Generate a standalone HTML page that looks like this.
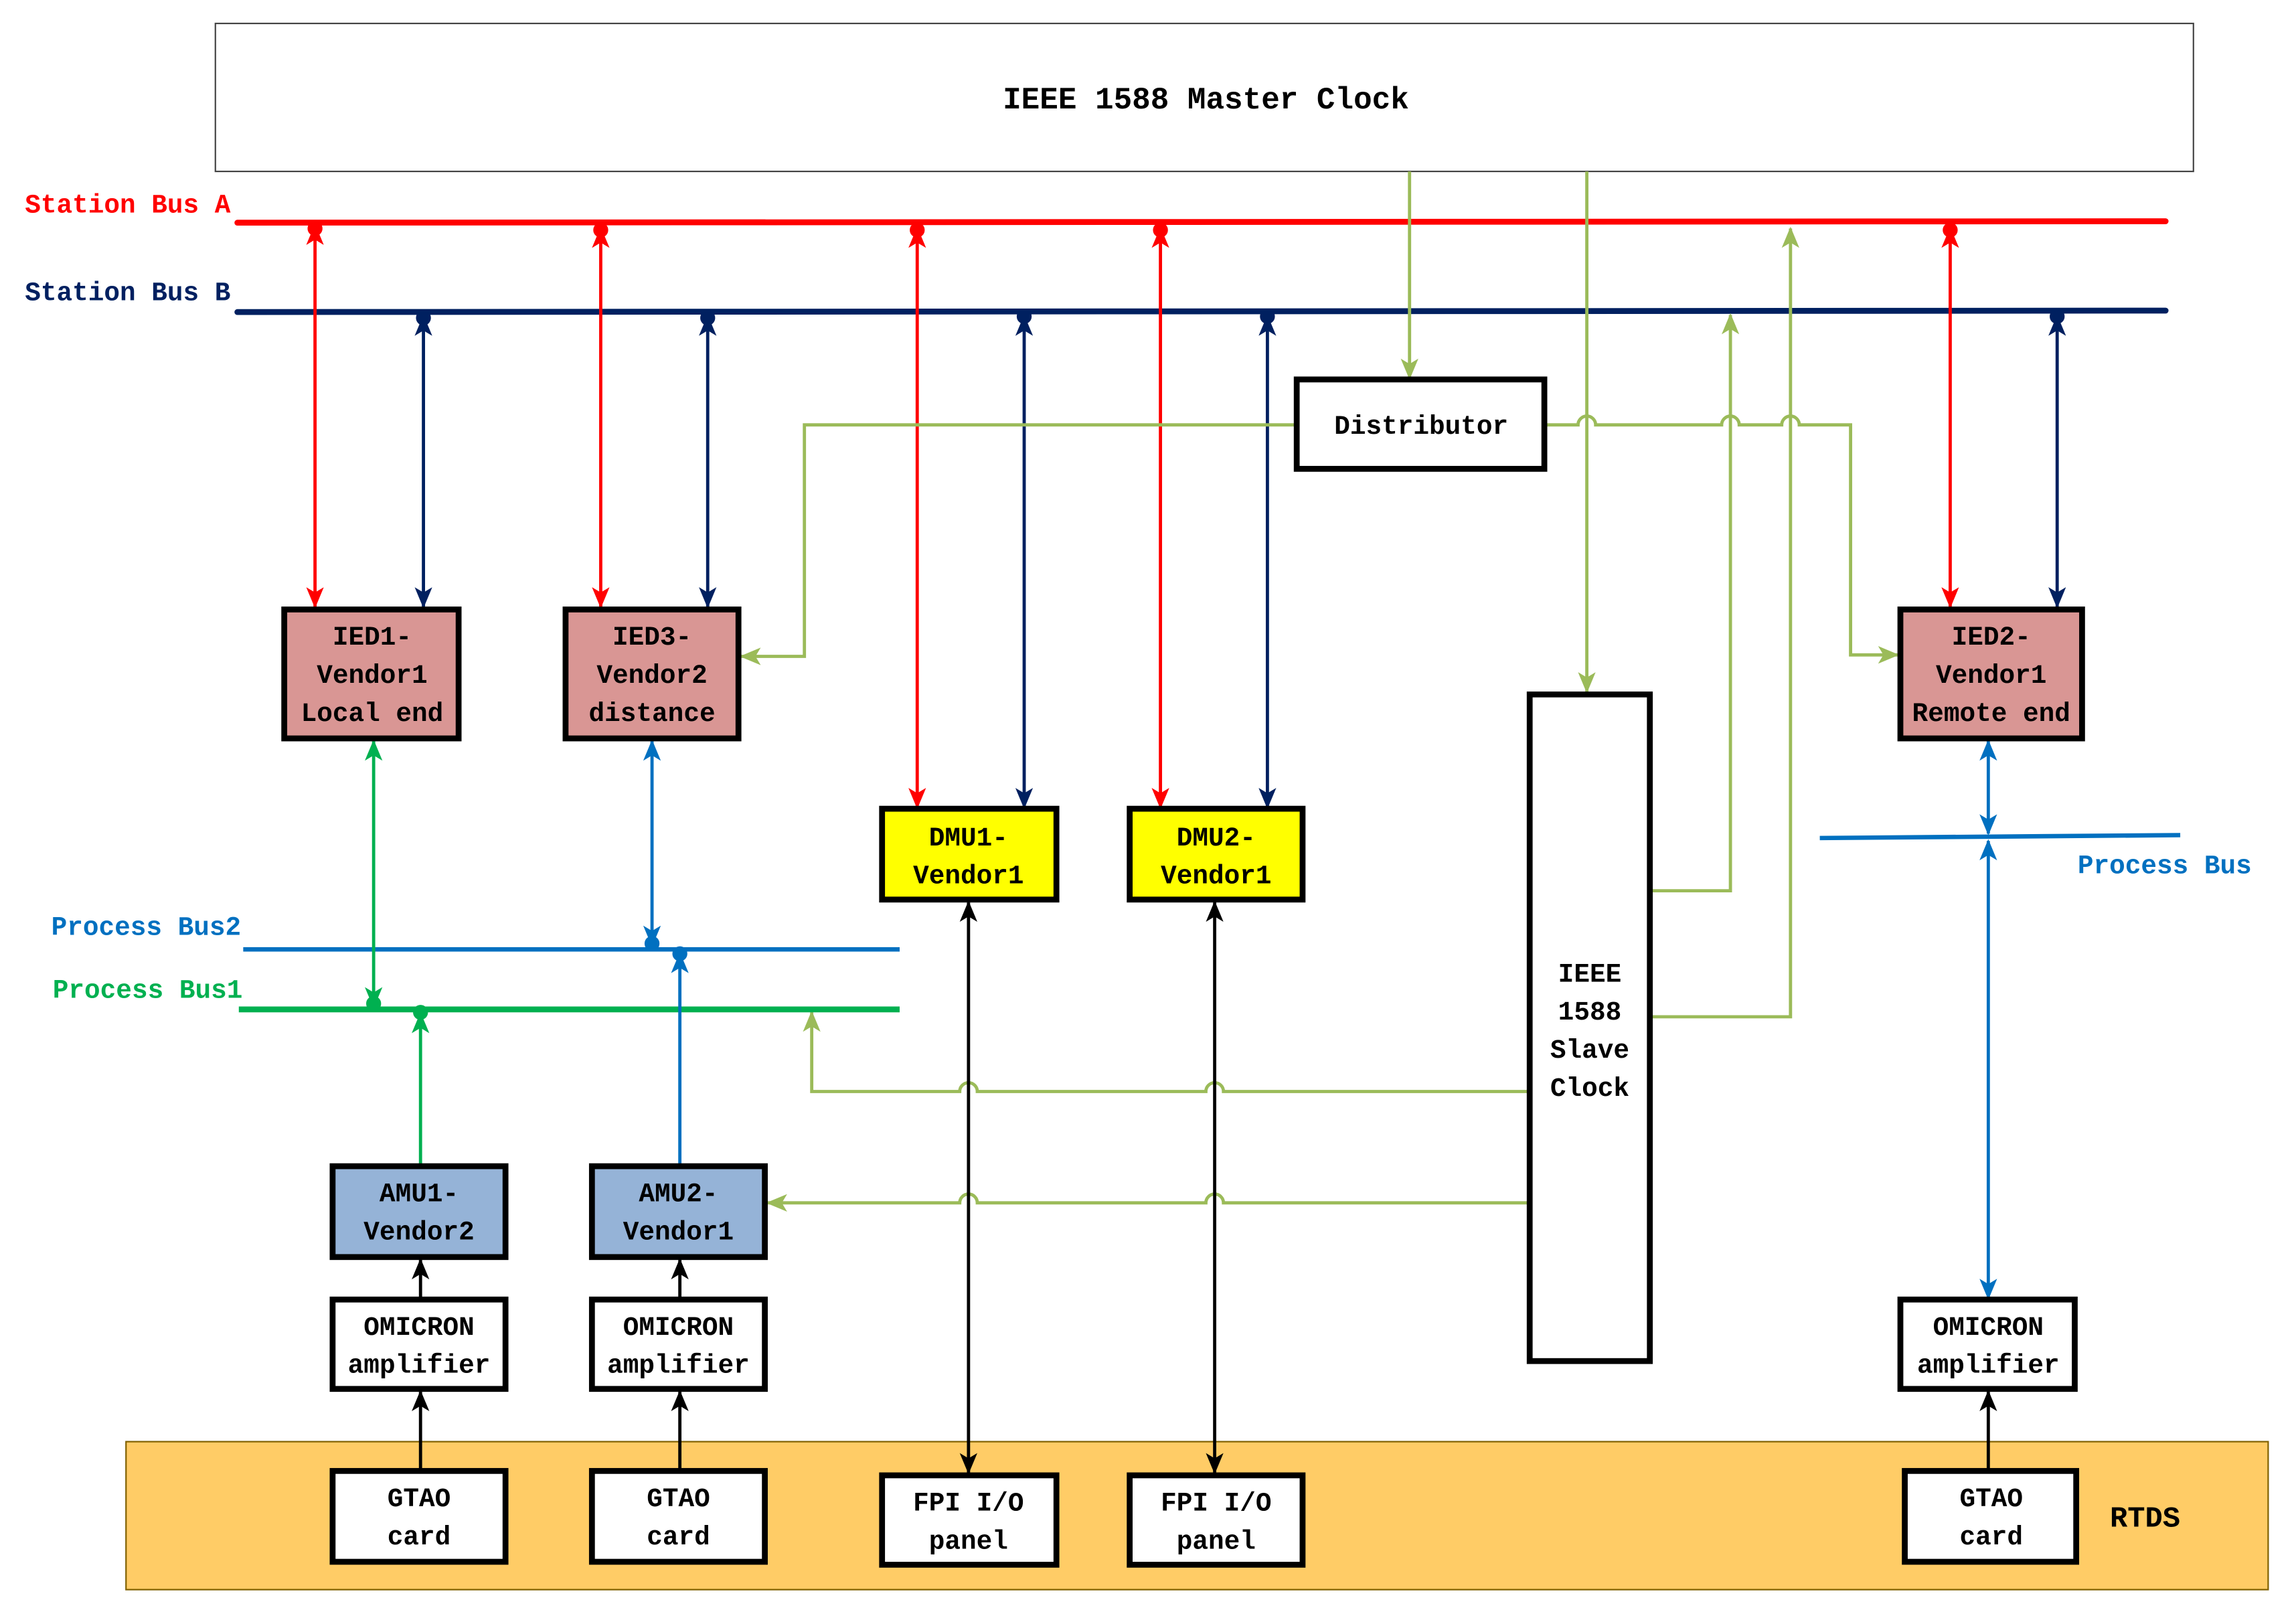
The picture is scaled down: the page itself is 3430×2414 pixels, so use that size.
<!DOCTYPE html>
<html><head><meta charset="utf-8"><style>html,body{margin:0;padding:0;background:#fff}svg{display:block}</style></head><body>
<svg xmlns="http://www.w3.org/2000/svg" width="3430" height="2414" viewBox="0 0 1567 1103" preserveAspectRatio="none">
<defs>
<marker id="ar" viewBox="0 0 12 10" refX="11" refY="5" markerWidth="15" markerHeight="12" markerUnits="userSpaceOnUse" orient="auto-start-reverse"><path d="M0,0 L12,5 L0,10 L3,5 z" fill="#ff0000"/></marker>
<marker id="an" viewBox="0 0 12 10" refX="11" refY="5" markerWidth="15" markerHeight="12" markerUnits="userSpaceOnUse" orient="auto-start-reverse"><path d="M0,0 L12,5 L0,10 L3,5 z" fill="#002060"/></marker>
<marker id="ag" viewBox="0 0 12 10" refX="11" refY="5" markerWidth="15" markerHeight="12" markerUnits="userSpaceOnUse" orient="auto-start-reverse"><path d="M0,0 L12,5 L0,10 L3,5 z" fill="#9bbb59"/></marker>
<marker id="aG" viewBox="0 0 12 10" refX="11" refY="5" markerWidth="15" markerHeight="12" markerUnits="userSpaceOnUse" orient="auto-start-reverse"><path d="M0,0 L12,5 L0,10 L3,5 z" fill="#00b050"/></marker>
<marker id="ab" viewBox="0 0 12 10" refX="11" refY="5" markerWidth="15" markerHeight="12" markerUnits="userSpaceOnUse" orient="auto-start-reverse"><path d="M0,0 L12,5 L0,10 L3,5 z" fill="#0070c0"/></marker>
<marker id="ak" viewBox="0 0 12 10" refX="11" refY="5" markerWidth="15" markerHeight="12" markerUnits="userSpaceOnUse" orient="auto-start-reverse"><path d="M0,0 L12,5 L0,10 L3,5 z" fill="#000"/></marker>
</defs>
<g font-family="Liberation Mono, monospace" font-size="18" font-weight="bold" text-anchor="middle">
<rect x="86" y="984" width="1462" height="101" fill="#ffcc66" stroke="#7f6000" stroke-width="1"/>
<text x="1464" y="1042" font-size="20">RTDS</text>
<rect x="147" y="16" width="1350" height="101" fill="#fff" stroke="#444" stroke-width="1"/>
<text x="823" y="74" font-size="21">IEEE 1588 Master Clock</text>
<line x1="162" y1="152" x2="1478" y2="151" stroke="#ff0000" stroke-width="4" stroke-linecap="round"/>
<line x1="162" y1="213" x2="1478" y2="212" stroke="#002060" stroke-width="4" stroke-linecap="round"/>
<text x="17" y="145" text-anchor="start" fill="#ff0000">Station Bus A</text>
<text x="17" y="205" text-anchor="start" fill="#002060">Station Bus B</text>
<g stroke="#ff0000" stroke-width="2.2" fill="#ff0000">
<line x1="215" y1="154" x2="215" y2="414" marker-start="url(#ar)" marker-end="url(#ar)"/>
<line x1="410" y1="156" x2="410" y2="414" marker-start="url(#ar)" marker-end="url(#ar)"/>
<line x1="626" y1="156" x2="626" y2="551" marker-start="url(#ar)" marker-end="url(#ar)"/>
<line x1="792" y1="156" x2="792" y2="551" marker-start="url(#ar)" marker-end="url(#ar)"/>
<line x1="1331" y1="156" x2="1331" y2="414" marker-start="url(#ar)" marker-end="url(#ar)"/>
<circle cx="215" cy="156" r="4"/><circle cx="410" cy="157" r="4"/><circle cx="626" cy="157" r="4"/><circle cx="792" cy="157" r="4"/><circle cx="1331" cy="157" r="4"/>
</g>
<g stroke="#002060" stroke-width="2.2" fill="#002060">
<line x1="289" y1="216" x2="289" y2="414" marker-start="url(#an)" marker-end="url(#an)"/>
<line x1="483" y1="216" x2="483" y2="414" marker-start="url(#an)" marker-end="url(#an)"/>
<line x1="699" y1="216" x2="699" y2="551" marker-start="url(#an)" marker-end="url(#an)"/>
<line x1="865" y1="216" x2="865" y2="551" marker-start="url(#an)" marker-end="url(#an)"/>
<line x1="1404" y1="216" x2="1404" y2="414" marker-start="url(#an)" marker-end="url(#an)"/>
<circle cx="289" cy="217" r="4"/><circle cx="483" cy="217" r="4"/><circle cx="699" cy="216" r="4"/><circle cx="865" cy="216" r="4"/><circle cx="1404" cy="216" r="4"/>
</g>
<g stroke="#9bbb59" stroke-width="2.2" fill="none">
<line x1="962" y1="117" x2="962" y2="258" marker-end="url(#ag)"/>
<line x1="1083" y1="117" x2="1083" y2="472" marker-end="url(#ag)"/>
<polyline points="885,290 549,290 549,448 506,448" marker-end="url(#ag)"/>
<path d="M1054,290 H1077 a6,6 0 0 1 12,0 H1175 a6,6 0 0 1 12,0 H1216 a6,6 0 0 1 12,0 H1263 V447 H1295" marker-end="url(#ag)"/>
<polyline points="1126,608 1181,608 1181,215" marker-end="url(#ag)"/>
<polyline points="1126,694 1222,694 1222,156" marker-end="url(#ag)"/>
<path d="M1044,745 H835 a6,6 0 0 0 -12,0 H667 a6,6 0 0 0 -12,0 H554 V691" marker-end="url(#ag)"/>
<path d="M1044,821 H835 a6,6 0 0 0 -12,0 H667 a6,6 0 0 0 -12,0 H524" marker-end="url(#ag)"/>
</g>
<line x1="166" y1="648" x2="614" y2="648" stroke="#0070c0" stroke-width="3"/>
<line x1="163" y1="689" x2="614" y2="689" stroke="#00b050" stroke-width="4"/>
<text x="35" y="638" text-anchor="start" fill="#0070c0">Process Bus2</text>
<text x="36" y="681" text-anchor="start" fill="#00b050">Process Bus1</text>
<line x1="1242" y1="572" x2="1488" y2="570" stroke="#0070c0" stroke-width="3"/>
<text x="1418" y="596" text-anchor="start" fill="#0070c0">Process Bus</text>
<g stroke="#00b050" stroke-width="2.2" fill="#00b050">
<line x1="255" y1="506" x2="255" y2="687" marker-start="url(#aG)" marker-end="url(#aG)"/>
<line x1="287" y1="796" x2="287" y2="692" marker-end="url(#aG)"/>
<circle cx="255" cy="685" r="4"/><circle cx="287" cy="691" r="4"/>
</g>
<g stroke="#0070c0" stroke-width="2.2" fill="#0070c0">
<line x1="445" y1="506" x2="445" y2="645" marker-start="url(#ab)" marker-end="url(#ab)"/>
<line x1="464" y1="796" x2="464" y2="651" marker-end="url(#ab)"/>
<line x1="1357" y1="506" x2="1357" y2="569" marker-start="url(#ab)" marker-end="url(#ab)"/>
<line x1="1357" y1="574" x2="1357" y2="886" marker-start="url(#ab)" marker-end="url(#ab)"/>
<circle cx="445" cy="644" r="4"/><circle cx="464" cy="651" r="4"/>
</g>
<g stroke="#000" stroke-width="2.2">
<line x1="287" y1="1004" x2="287" y2="950" marker-end="url(#ak)"/>
<line x1="287" y1="887" x2="287" y2="860" marker-end="url(#ak)"/>
<line x1="464" y1="1004" x2="464" y2="950" marker-end="url(#ak)"/>
<line x1="464" y1="887" x2="464" y2="860" marker-end="url(#ak)"/>
<line x1="1357" y1="1004" x2="1357" y2="950" marker-end="url(#ak)"/>
<line x1="661" y1="616" x2="661" y2="1005" marker-start="url(#ak)" marker-end="url(#ak)"/>
<line x1="829" y1="616" x2="829" y2="1005" marker-start="url(#ak)" marker-end="url(#ak)"/>
</g>
<g stroke="#000" stroke-width="4">
<rect x="194" y="416" width="119" height="88" fill="#d99694"/>
<rect x="386" y="416" width="118" height="88" fill="#d99694"/>
<rect x="1297" y="416" width="124" height="88" fill="#d99694"/>
<rect x="602" y="552" width="119" height="62" fill="#ffff00"/>
<rect x="771" y="552" width="118" height="62" fill="#ffff00"/>
<rect x="885" y="259" width="169" height="61" fill="#fff"/>
<rect x="1044" y="474" width="82" height="455" fill="#fff"/>
<rect x="227" y="796" width="118" height="62" fill="#95b3d7"/>
<rect x="404" y="796" width="118" height="62" fill="#95b3d7"/>
<rect x="227" y="887" width="118" height="61" fill="#fff"/>
<rect x="404" y="887" width="118" height="61" fill="#fff"/>
<rect x="1297" y="887" width="119" height="61" fill="#fff"/>
<rect x="227" y="1004" width="118" height="62" fill="#fff"/>
<rect x="404" y="1004" width="118" height="62" fill="#fff"/>
<rect x="1300" y="1004" width="117" height="62" fill="#fff"/>
<rect x="602" y="1007" width="119" height="61" fill="#fff"/>
<rect x="771" y="1007" width="118" height="61" fill="#fff"/>
</g>
<g fill="#000">
<text x="254" y="440">IED1-</text><text x="254" y="466">Vendor1</text><text x="254" y="492">Local end</text>
<text x="445" y="440">IED3-</text><text x="445" y="466">Vendor2</text><text x="445" y="492">distance</text>
<text x="1359" y="440">IED2-</text><text x="1359" y="466">Vendor1</text><text x="1359" y="492">Remote end</text>
<text x="661" y="577">DMU1-</text><text x="661" y="603">Vendor1</text>
<text x="830" y="577">DMU2-</text><text x="830" y="603">Vendor1</text>
<text x="970" y="296">Distributor</text>
<text x="1085" y="670">IEEE</text><text x="1085" y="696">1588</text><text x="1085" y="722">Slave</text><text x="1085" y="748">Clock</text>
<text x="286" y="820">AMU1-</text><text x="286" y="846">Vendor2</text>
<text x="463" y="820">AMU2-</text><text x="463" y="846">Vendor1</text>
<text x="286" y="911">OMICRON</text><text x="286" y="937">amplifier</text>
<text x="463" y="911">OMICRON</text><text x="463" y="937">amplifier</text>
<text x="1357" y="911">OMICRON</text><text x="1357" y="937">amplifier</text>
<text x="286" y="1028">GTAO</text><text x="286" y="1054">card</text>
<text x="463" y="1028">GTAO</text><text x="463" y="1054">card</text>
<text x="1359" y="1028">GTAO</text><text x="1359" y="1054">card</text>
<text x="661" y="1031">FPI I/O</text><text x="661" y="1057">panel</text>
<text x="830" y="1031">FPI I/O</text><text x="830" y="1057">panel</text>
</g>
</g>
</svg>
</body></html>
